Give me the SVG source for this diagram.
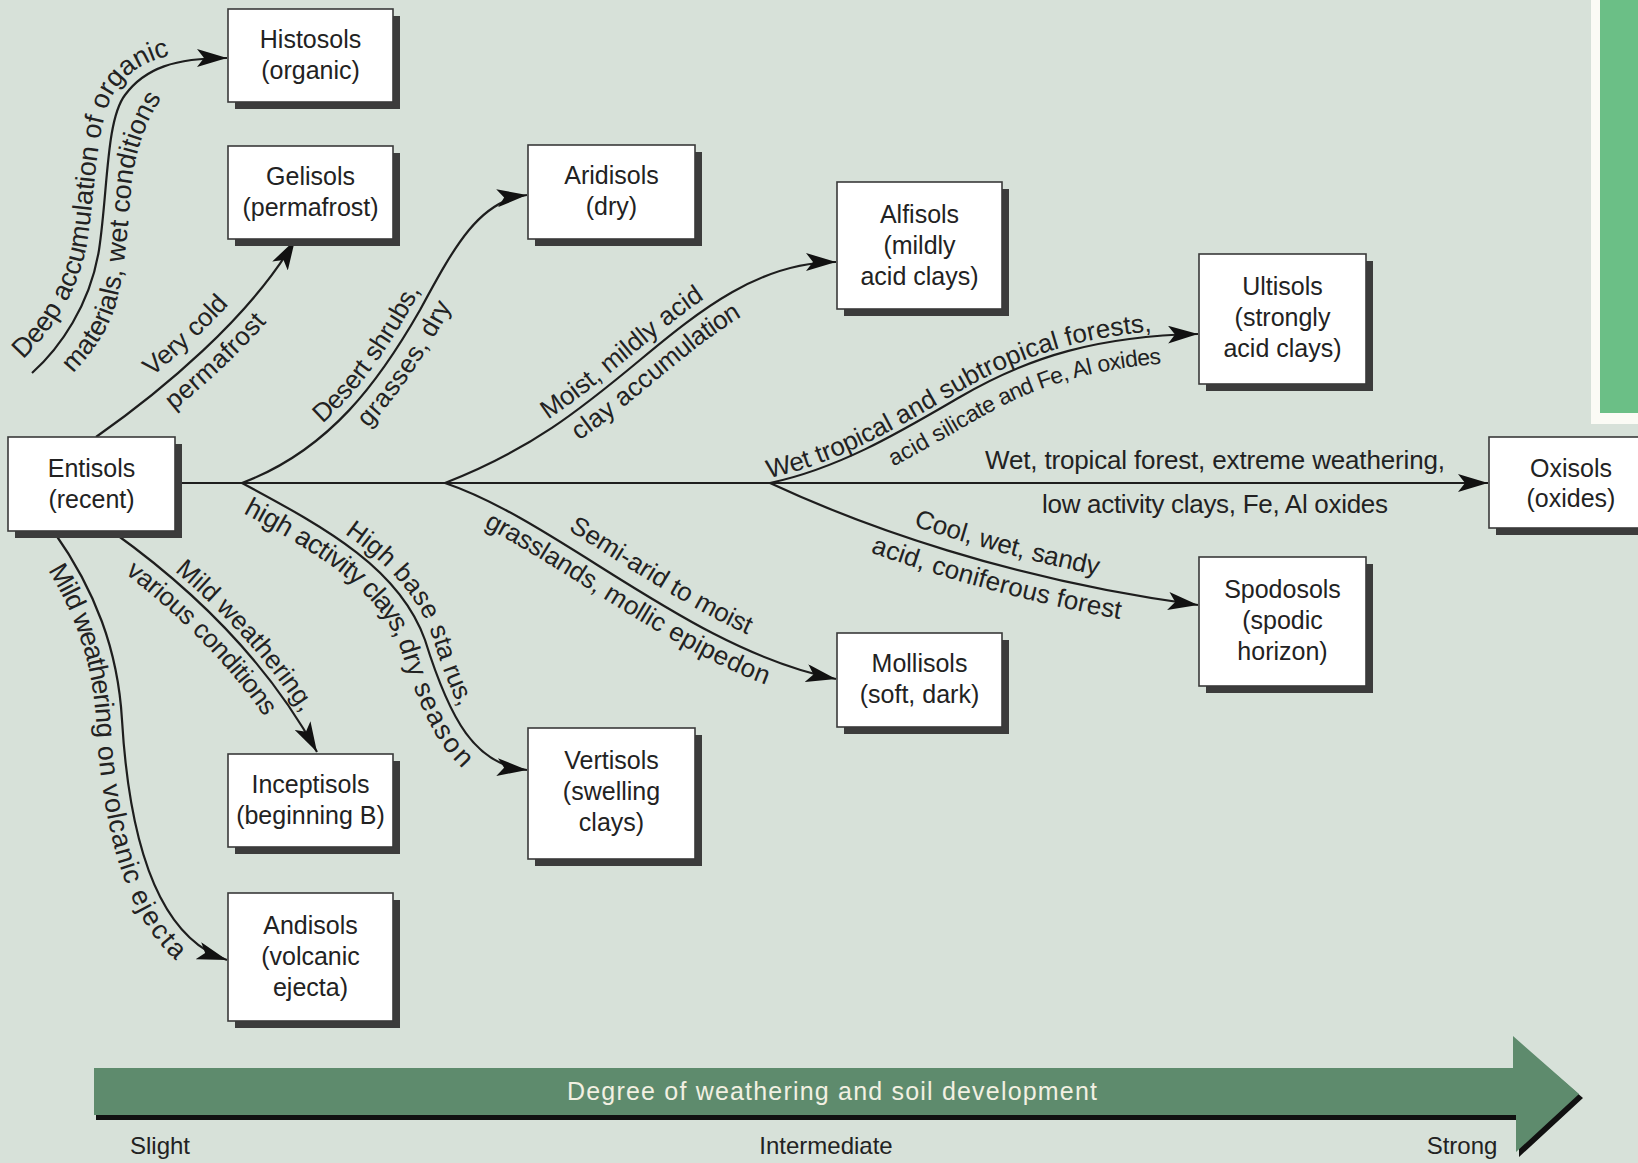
<svg xmlns="http://www.w3.org/2000/svg" width="1638" height="1163" viewBox="0 0 1638 1163">
<defs>
<style>
.box{fill:#ffffff;stroke:#3a3a3a;stroke-width:1.6}
.shd{fill:#3c3c3c}
.nt{font-family:"Liberation Sans",Arial,sans-serif;font-size:25px;fill:#222;text-anchor:middle}
.conn{fill:none;stroke:#1e1e1e;stroke-width:2.2;marker-end:url(#ah)}
.lbl{font-family:"Liberation Sans",Arial,sans-serif;font-size:26px;fill:#222}
.lg{font-size:27px}
.sm{font-size:23px}
.ax{font-family:"Liberation Sans",Arial,sans-serif;font-size:24px;fill:#222;text-anchor:middle}
</style>
<marker id="ah" viewBox="0 0 30 18" refX="30" refY="9" markerWidth="30" markerHeight="18" markerUnits="userSpaceOnUse" orient="auto">
<path d="M0,0 L30,9 L0,18 L7,9 Z" fill="#111"/>
</marker>
<path id="b-histo1" d="M20,362 C48,336 78,295 87,244 C96,186 96,116 117,88 C138,60 172,50 227,50" fill="none"/>
<path id="b-histo2" d="M52,392 C77,372 106,340 116,304 C125,270 127,237 131,190 C134,155 146,112 176,80" fill="none"/>
</defs>
<rect x="0" y="0" width="1638" height="1163" fill="#d7e1d9"/>
<g id="corner-panel">
<rect x="1591" y="0" width="47" height="424" fill="#fbfbf5"/>
<rect x="1600" y="0" width="38" height="413" fill="#6bbf86"/>
</g>

<g id="connectors">
<path id="c-oxi" class="conn" d="M175,483 L1488,483"/>
<path id="c-histo" class="conn" d="M32,373 C60,348 90,305 99,250 C108,190 106,120 125,95 C145,68 175,58 227,58"/>
<path id="c-geli" class="conn" d="M96,437 C160,392 250,318 295,240"/>
<path id="c-aridi" class="conn" d="M242,483 C330,450 380,380 420,310 C455,245 480,200 527,195"/>
<path id="c-verti" class="conn" d="M242,483 C330,530 400,570 425,640 C450,720 475,765 527,770"/>
<path id="c-alfi" class="conn" d="M445,483 C530,450 580,410 640,360 C700,310 760,262 836,262"/>
<path id="c-molli" class="conn" d="M445,483 C560,522 690,650 836,679"/>
<path id="c-ulti" class="conn" d="M770,483 C840,468 900,432 960,397 C1030,356 1100,336 1198,334"/>
<path id="c-spodo" class="conn" d="M770,483 C860,525 1010,580 1198,605"/>
<path id="c-incep" class="conn" d="M113,532 Q250,630 317,752"/>
<path id="c-andi" class="conn" d="M54,532 C95,590 118,650 122,720 C128,820 150,935 227,960"/>
</g>

<g id="labels">
<text class="lbl lg"><textPath href="#b-histo1" startOffset="4">Deep accumulation of organic</textPath></text>
<text class="lbl lg"><textPath href="#b-histo2" startOffset="28">materials, wet conditions</textPath></text>
<text class="lbl" dy="-14"><textPath href="#c-geli" startOffset="82">Very cold</textPath></text>
<text class="lbl" dy="26"><textPath href="#c-geli" startOffset="77">permafrost</textPath></text>
<text class="lbl" dy="-9"><textPath href="#c-aridi" startOffset="102">Desert shrubs,</textPath></text>
<text class="lbl" dy="26"><textPath href="#c-aridi" startOffset="130">grasses, dry</textPath></text>
<text class="lbl" dy="-9"><textPath href="#c-alfi" startOffset="122">Moist, mildly acid</textPath></text>
<text class="lbl" dy="26"><textPath href="#c-alfi" startOffset="135">clay accumulation</textPath></text>
<text class="lbl" dy="-5"><textPath href="#c-ulti" startOffset="0">Wet tropical and subtropical forests,</textPath></text>
<text class="lbl sm" dy="28"><textPath href="#c-ulti" startOffset="118">acid silicate and Fe, Al oxides</textPath></text>
<text class="lbl" x="985" y="469" textLength="460" lengthAdjust="spacing">Wet, tropical forest, extreme weathering,</text>
<text class="lbl" x="1042" y="513" textLength="346" lengthAdjust="spacing">low activity clays, Fe, Al oxides</text>
<text class="lbl" dy="-13"><textPath href="#c-spodo" startOffset="150">Cool, wet, sandy</textPath></text>
<text class="lbl" dy="26"><textPath href="#c-spodo" startOffset="118">acid, coniferous forest</textPath></text>
<text class="lbl" dy="-14"><textPath href="#c-molli" startOffset="130">Semi-arid to moist</textPath></text>
<text class="lbl" dy="25"><textPath href="#c-molli" startOffset="55">grasslands, mollic epipedon</textPath></text>
<text class="lbl" dy="-8"><textPath href="#c-verti" startOffset="113">High base sta rus,</textPath></text>
<text class="lbl lg" dy="26"><textPath href="#c-verti" startOffset="15">high activity clays, dry season</textPath></text>
<text class="lbl" dy="-7"><textPath href="#c-incep" startOffset="72">Mild weathering,</textPath></text>
<text class="lbl" dy="26"><textPath href="#c-incep" startOffset="35">various conditions</textPath></text>
<text class="lbl lg" dy="26"><textPath href="#c-andi" startOffset="30">Mild weathering on volcanic ejecta</textPath></text>
</g>

<g id="n-histosols">
<rect class="shd" x="235" y="16" width="165" height="93"/>
<rect class="box" x="228" y="9" width="165" height="93"/>
<text class="nt" x="310.5" y="48">Histosols</text>
<text class="nt" x="310.5" y="79">(organic)</text>
</g>
<g id="n-gelisols">
<rect class="shd" x="235" y="153" width="165" height="93"/>
<rect class="box" x="228" y="146" width="165" height="93"/>
<text class="nt" x="310.5" y="185">Gelisols</text>
<text class="nt" x="310.5" y="216">(permafrost)</text>
</g>
<g id="n-entisols">
<rect class="shd" x="15" y="444" width="167" height="94"/>
<rect class="box" x="8" y="437" width="167" height="94"/>
<text class="nt" x="91.5" y="477">Entisols</text>
<text class="nt" x="91.5" y="508">(recent)</text>
</g>
<g id="n-inceptisols">
<rect class="shd" x="235" y="761" width="165" height="93"/>
<rect class="box" x="228" y="754" width="165" height="93"/>
<text class="nt" x="310.5" y="793">Inceptisols</text>
<text class="nt" x="310.5" y="824">(beginning B)</text>
</g>
<g id="n-andisols">
<rect class="shd" x="235" y="900" width="165" height="128"/>
<rect class="box" x="228" y="893" width="165" height="128"/>
<text class="nt" x="310.5" y="934">Andisols</text>
<text class="nt" x="310.5" y="965">(volcanic</text>
<text class="nt" x="310.5" y="996">ejecta)</text>
</g>
<g id="n-aridisols">
<rect class="shd" x="535" y="152" width="167" height="94"/>
<rect class="box" x="528" y="145" width="167" height="94"/>
<text class="nt" x="611.5" y="184">Aridisols</text>
<text class="nt" x="611.5" y="215">(dry)</text>
</g>
<g id="n-alfisols">
<rect class="shd" x="844" y="189" width="165" height="127"/>
<rect class="box" x="837" y="182" width="165" height="127"/>
<text class="nt" x="919.5" y="223">Alfisols</text>
<text class="nt" x="919.5" y="254">(mildly</text>
<text class="nt" x="919.5" y="285">acid clays)</text>
</g>
<g id="n-ultisols">
<rect class="shd" x="1206" y="261" width="167" height="130"/>
<rect class="box" x="1199" y="254" width="167" height="130"/>
<text class="nt" x="1282.5" y="295">Ultisols</text>
<text class="nt" x="1282.5" y="326">(strongly</text>
<text class="nt" x="1282.5" y="357">acid clays)</text>
</g>
<g id="n-oxisols">
<rect class="shd" x="1496" y="444" width="165" height="91"/>
<rect class="box" x="1489" y="437" width="165" height="91"/>
<text class="nt" x="1571" y="477">Oxisols</text>
<text class="nt" x="1571" y="507">(oxides)</text>
</g>
<g id="n-spodosols">
<rect class="shd" x="1206" y="564" width="167" height="129"/>
<rect class="box" x="1199" y="557" width="167" height="129"/>
<text class="nt" x="1282.5" y="598">Spodosols</text>
<text class="nt" x="1282.5" y="629">(spodic</text>
<text class="nt" x="1282.5" y="660">horizon)</text>
</g>
<g id="n-mollisols">
<rect class="shd" x="844" y="640" width="165" height="94"/>
<rect class="box" x="837" y="633" width="165" height="94"/>
<text class="nt" x="919.5" y="672">Mollisols</text>
<text class="nt" x="919.5" y="703">(soft, dark)</text>
</g>
<g id="n-vertisols">
<rect class="shd" x="535" y="735" width="167" height="131"/>
<rect class="box" x="528" y="728" width="167" height="131"/>
<text class="nt" x="611.5" y="769">Vertisols</text>
<text class="nt" x="611.5" y="800">(swelling</text>
<text class="nt" x="611.5" y="831">clays)</text>
</g>

<g id="weathering-axis">
<path d="M96,1073 L1516,1073 L1516,1040 L1583,1098 L1519,1157 L1519,1120 L96,1120 Z" fill="#111"/>
<path d="M94,1068 L1513,1068 L1513,1036 L1579,1094 L1516,1152 L1516,1115 L94,1115 Z" fill="#5e8b6d"/>
<text x="832" y="1100" textLength="530" lengthAdjust="spacing" style="font-family:'Liberation Sans',Arial,sans-serif;font-size:25px;fill:#f2f0e2;text-anchor:middle">Degree of weathering and soil development</text>
<text class="ax" x="160" y="1154">Slight</text>
<text class="ax" x="826" y="1154">Intermediate</text>
<text class="ax" x="1462" y="1154">Strong</text>
</g>
</svg>
